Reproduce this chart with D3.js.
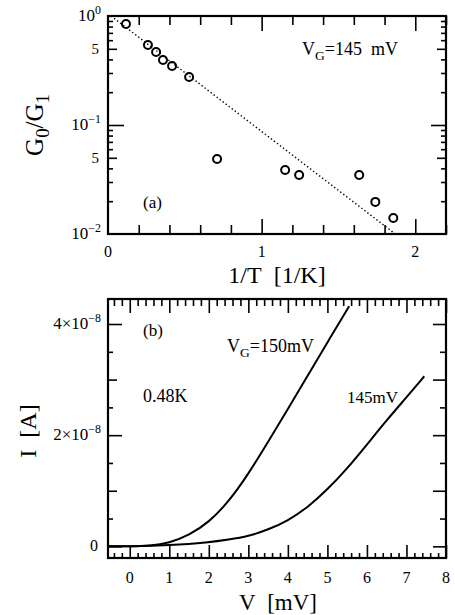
<!DOCTYPE html>
<html>
<head>
<meta charset="utf-8">
<script src="https://cdn.jsdelivr.net/npm/d3@7"></script>
<style>
  body { margin: 0; background: #fff; }
  svg text { fill: #000; white-space: pre; }
</style>
</head>
<body>
<svg id="chart" width="455" height="615" font-family="'Liberation Serif', 'Times New Roman', Times, serif"></svg>
<script>
// panel (a): G0/G1 vs 1/T
var invT   = [0.117, 0.26, 0.313, 0.358, 0.417, 0.528, 0.71, 1.153, 1.244, 1.635, 1.74, 1.857];
var gRatio = [0.845, 0.542, 0.467, 0.395, 0.348, 0.276, 0.0488, 0.0387, 0.0348, 0.0348, 0.0197, 0.014];
var fitX = [0.02, 1.87];
var fitY = [1.0, 0.01];

// panel (b): I-V curves, current in units of 1e-8 A
var v150 = [-0.55, 0, 0.5, 1.0, 1.5, 2.0, 2.5, 3.0, 3.5, 4.0, 4.5, 5.0, 5.55];
var i150 = [0, 0, 0.01, 0.06, 0.2, 0.43, 0.8, 1.3, 1.88, 2.47, 3.07, 3.67, 4.32];
var v145 = [-0.55, 0, 1.0, 2.0, 2.5, 3.0, 3.5, 4.0, 4.5, 5.0, 5.5, 6.0, 6.5, 7.0, 7.45];
var i145 = [0, 0, 0.02, 0.07, 0.12, 0.18, 0.3, 0.46, 0.7, 1.02, 1.4, 1.83, 2.27, 2.68, 3.06];

var svg = d3.select("#chart");

function tickLayer(axisFn, scale, values, size, tx, ty) {
	svg.append("g")
		.attr("transform", "translate(" + tx + "," + ty + ")")
		.call(axisFn(scale).tickValues(values).tickSizeInner(size).tickSizeOuter(0).tickFormat(""))
		.call(function(g){
			g.select(".domain").remove();
			g.selectAll("line").attr("stroke", "#000").attr("stroke-width", 1.6);
		});
}

function frame(x0, x1, y0, y1) {
	svg.append("rect")
		.attr("x", x0).attr("y", y0)
		.attr("width", x1 - x0).attr("height", y1 - y0)
		.attr("fill", "none").attr("stroke", "#000").attr("stroke-width", 2.2);
}

function label(x, y, parts, size, anchor) {
	var t = svg.append("text").attr("x", x).attr("y", y)
		.attr("font-size", size).attr("text-anchor", anchor || "start");
	parts.forEach(function(p){
		var s = t.append("tspan").text(p[0]);
		if (p[1] == "sup") s.attr("font-size", size * 0.7).attr("dy", -size * 0.4);
		if (p[1] == "sub") s.attr("font-size", size * 0.75).attr("dy", size * 0.25);
		if (p[1] == "back") s.attr("dy", p[2]);
	});
	return t;
}

// ---------------- panel (a)
var xA = d3.scaleLinear().domain([0, 2.2]).range([108, 446]);
var yA = d3.scaleLog().domain([0.01, 1]).range([234, 16]);

var minorA = d3.range(1, 12).map(function(i){ return i * 0.2; }).filter(function(v){ return Math.abs(v - 1) > 1e-6 && Math.abs(v - 2) > 1e-6; });
tickLayer(d3.axisTop, xA, minorA, 9, 0, 234);
tickLayer(d3.axisTop, xA, [1, 2], 15, 0, 234);
tickLayer(d3.axisBottom, xA, minorA, 9, 0, 16);
tickLayer(d3.axisBottom, xA, [1, 2], 15, 0, 16);

var logMinor = [2, 3, 4, 6, 7, 8, 9].map(function(d){ return d * 0.01; })
	.concat([2, 3, 4, 6, 7, 8, 9].map(function(d){ return d * 0.1; }));
tickLayer(d3.axisRight, yA, logMinor, 5, 108, 0);
tickLayer(d3.axisRight, yA, [0.05, 0.5], 9, 108, 0);
tickLayer(d3.axisRight, yA, [0.1], 16, 108, 0);
tickLayer(d3.axisLeft, yA, logMinor, 5, 446, 0);
tickLayer(d3.axisLeft, yA, [0.05, 0.5], 9, 446, 0);
tickLayer(d3.axisLeft, yA, [0.1], 15, 446, 0);

var fitLine = d3.line().x(function(d){ return xA(d[0]); }).y(function(d){ return yA(d[1]); });
svg.append("path")
	.datum(d3.zip(fitX, fitY))
	.attr("d", fitLine)
	.attr("fill", "none").attr("stroke", "#000")
	.attr("stroke-width", 1.4).attr("stroke-dasharray", "1.4,2.4");

svg.selectAll("circle.pt")
	.data(d3.zip(invT, gRatio))
	.enter().append("circle")
	.attr("class", "pt")
	.attr("cx", function(d){ return xA(d[0]); })
	.attr("cy", function(d){ return yA(d[1]); })
	.attr("r", 4)
	.attr("fill", "none").attr("stroke", "#000").attr("stroke-width", 2);

frame(108, 446, 16, 234);

// tick labels (a)
[0, 1, 2].forEach(function(v){
	label(xA(v), 257, [[String(v)]], 16, "middle");
});
label(101, yA(1) + 5, [["10"], ["0", "sup"]], 17, "end");
label(101, yA(0.1) + 5, [["10"], ["\u22121", "sup"]], 17, "end");
label(101, yA(0.01) + 5, [["10"], ["\u22122", "sup"]], 17, "end");
label(99, yA(0.5) + 5, [["5"]], 15, "end");
label(99, yA(0.05) + 5, [["5"]], 15, "end");

label(xA(1.1), 283, [["1/T\u00a0\u00a0[1/K]"]], 24, "middle");
label(0, 0, [["G"], ["0", "sub"], ["/", "back", -25 * 0.25], ["G"], ["1", "sub"]], 25, "middle")
	.attr("transform", "translate(43,125) rotate(-90)");

label(302, 55, [["V"], ["G", "sub"], ["=145\u00a0\u00a0mV", "back", -18 * 0.25]], 18);
label(143, 208, [["(a)"]], 17);

// ---------------- panel (b)
var xB = d3.scaleLinear().domain([-0.55, 8]).range([108, 446]);
var yB = d3.scaleLinear().domain([-0.21, 4.45]).range([558, 299]);

var vMinor = d3.range(-2, 40).map(function(i){ return i * 0.2; }).filter(function(v){ return Math.abs(v - Math.round(v)) > 1e-6; });
var vMajor = d3.range(0, 9);
tickLayer(d3.axisTop, xB, vMinor, 5, 0, 558);
tickLayer(d3.axisTop, xB, vMajor, 13, 0, 558);
tickLayer(d3.axisBottom, xB, vMinor, 7, 0, 299);
tickLayer(d3.axisBottom, xB, vMajor, 14, 0, 299);

var iHalf = [0.5, 1.5, 2.5, 3.5];
tickLayer(d3.axisRight, yB, iHalf, 5, 108, 0);
tickLayer(d3.axisRight, yB, [1, 3], 9, 108, 0);
tickLayer(d3.axisRight, yB, [0, 2, 4], 14, 108, 0);
tickLayer(d3.axisLeft, yB, iHalf, 6, 446, 0);
tickLayer(d3.axisLeft, yB, [0, 1, 2, 3, 4], 13, 446, 0);

var ivLine = d3.line().curve(d3.curveBasis)
	.x(function(d){ return xB(d[0]); }).y(function(d){ return yB(d[1]); });
[[v150, i150], [v145, i145]].forEach(function(s){
	svg.append("path")
		.datum(d3.zip(s[0], s[1]))
		.attr("d", ivLine)
		.attr("fill", "none").attr("stroke", "#000").attr("stroke-width", 2);
});

frame(108, 446, 299, 558);

vMajor.forEach(function(v){
	label(xB(v), 583, [[String(v)]], 16, "middle");
});
label(101, yB(4) + 5, [["4\u00d710"], ["\u22128", "sup"]], 17, "end");
label(101, yB(2) + 5, [["2\u00d710"], ["\u22128", "sup"]], 17, "end");
label(98, yB(0) + 5, [["0"]], 16, "end");

label(xB(3.75), 610, [["V\u00a0\u00a0[mV]"]], 23, "middle");
label(0, 0, [["I\u00a0\u00a0[A]"]], 24, "middle")
	.attr("transform", "translate(36,431) rotate(-90)");

label(143, 336, [["(b)"]], 17);
label(143, 402, [["0.48K"]], 18);
label(227, 352, [["V"], ["G", "sub"], ["=150mV", "back", -18 * 0.25]], 18);
label(347, 403, [["145mV"]], 17);
</script>
</body>
</html>
